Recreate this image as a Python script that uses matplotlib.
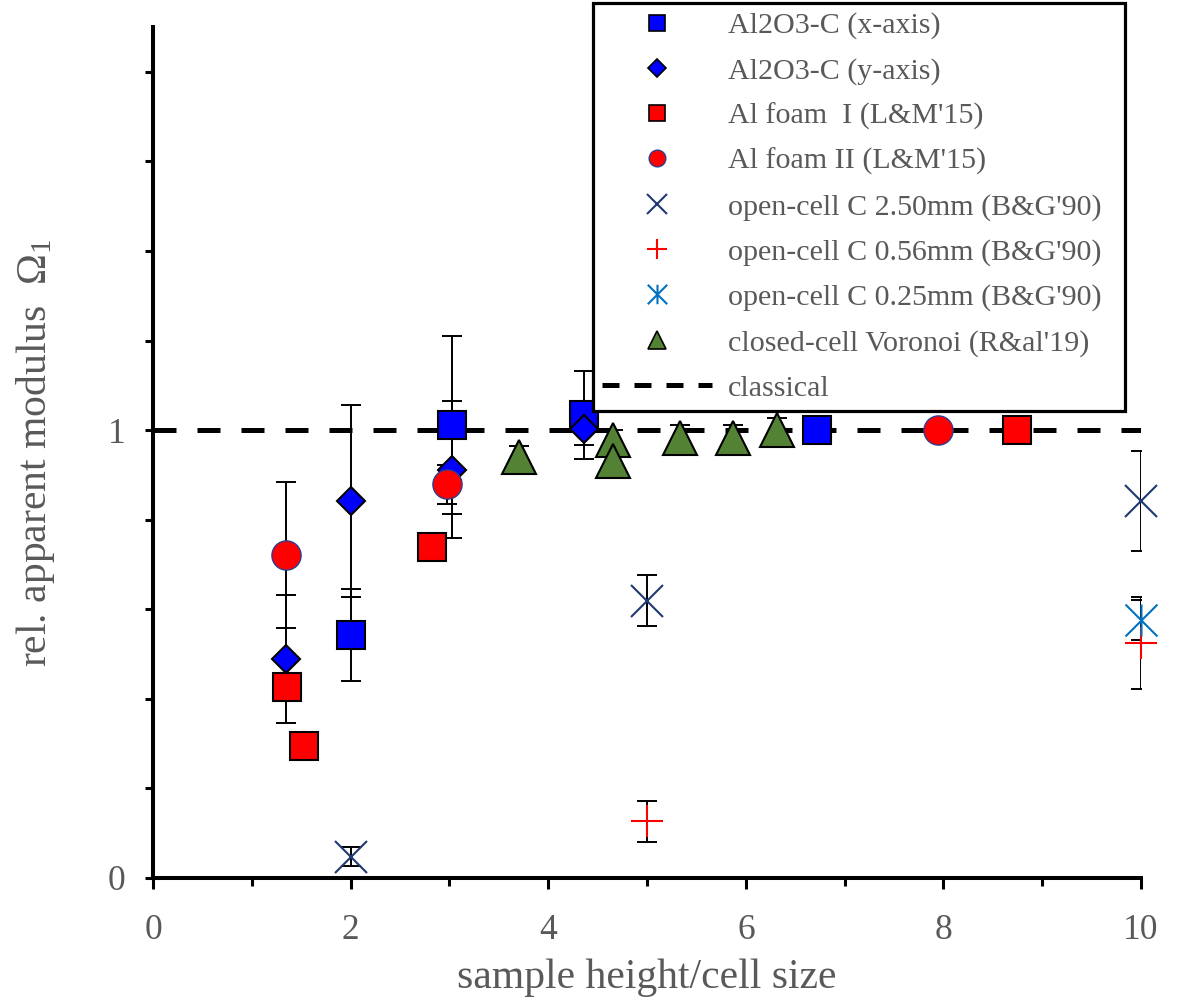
import numpy as np
import matplotlib
matplotlib.use('Agg')
import matplotlib.pyplot as plt
from matplotlib.lines import Line2D
from matplotlib.path import Path
from matplotlib.ticker import FixedLocator, MultipleLocator

# Data
al2o3_x_h = [2.0, 3.03, 4.36, 6.72]
al2o3_x_val = [0.542, 1.011, 1.033, 1.0]
al2o3_x_err = [0.103, 0.199, 0.098, 0.0]

al2o3_y_h = [1.35, 2.0, 3.03, 4.36]
al2o3_y_val = [0.489, 0.842, 0.912, 1.002]
al2o3_y_err = [0.143, 0.214, 0.152, 0.035]

foam1_h = [1.36, 1.53, 2.82, 8.74]
foam1_val = [0.426, 0.295, 0.739, 1.0]

foam2_h = [1.35, 2.98, 7.95]
foam2_val = [0.721, 0.879, 1.0]
foam2_err = [0.163, 0.044, 0.0]

oc250_h = [2.0, 5.0, 10.0]
oc250_val = [0.048, 0.619, 0.842]
oc250_err = [0.022, 0.057, 0.112]

oc056_h = [5.0, 10.0]
oc056_val = [0.127, 0.524]
oc056_err = [0.046, 0.103]

oc025_h = [10.0]
oc025_val = [0.576]
oc025_err = [0.045]

voronoi_h = [3.7, 4.66, 4.66, 5.33, 5.87, 6.32]
voronoi_val = [0.940, 0.978, 0.930, 0.982, 0.982, 1.0]
voronoi_err = [0.024, 0.022, 0.022, 0.03, 0.03, 0.027]

classical_h = [0, 10]
classical_val = [1, 1]

labels = ['Al2O3-C (x-axis)', 'Al2O3-C (y-axis)', 'Al foam  I (L&M\'15)',
          'Al foam II (L&M\'15)', 'open-cell C 2.50mm (B&G\'90)',
          'open-cell C 0.56mm (B&G\'90)', 'open-cell C 0.25mm (B&G\'90)',
          'closed-cell Voronoi (R&al\'19)', 'classical']

plt.rcParams['font.family'] = ['Liberation Serif', 'DejaVu Serif']
plt.rcParams['mathtext.fontset'] = 'custom'
plt.rcParams['mathtext.rm'] = 'Liberation Serif'
plt.rcParams['mathtext.it'] = 'Liberation Serif:italic'
gray = '#595959'

# asterisk marker: X with a vertical bar
star = Path([(0, -1), (0, 1), (-1, -1), (1, 1), (-1, 1), (1, -1)],
            [Path.MOVETO, Path.LINETO, Path.MOVETO, Path.LINETO, Path.MOVETO, Path.LINETO])

navy = '#1F3A70'
lblue = '#0070C0'
green = '#548235'

fig = plt.figure(figsize=(11.96, 10), dpi=100)
ax = fig.add_axes([0.128, 0.122, 0.826, 0.851])

eb = dict(ecolor='black', elinewidth=1.4, capsize=7.2, capthick=1.4, ls='none', zorder=2)

ax.plot(classical_h, classical_val, color='black', lw=3.6, dashes=(4.6, 4.2),
        dash_capstyle='butt', zorder=1.5)

ax.errorbar(al2o3_x_h, al2o3_x_val, yerr=al2o3_x_err, fmt='none', **eb)
ax.errorbar(al2o3_y_h, al2o3_y_val, yerr=al2o3_y_err, fmt='none', **eb)
ax.errorbar(foam2_h, foam2_val, yerr=foam2_err, fmt='none', **eb)
ax.errorbar(oc250_h, oc250_val, yerr=oc250_err, fmt='none', **eb)
ax.errorbar(oc056_h, oc056_val, yerr=oc056_err, fmt='none', **eb)
ax.errorbar(oc025_h, oc025_val, yerr=oc025_err, fmt='none', **eb)
ax.errorbar(voronoi_h, voronoi_val, yerr=voronoi_err, fmt='none', **eb)

ax.plot(foam1_h, foam1_val, 's', ms=20, mfc='#FF0000', mec='black', mew=1.5, ls='none', zorder=3)
ax.plot(voronoi_h, voronoi_val, '^', ms=24, mfc=green, mec='black', mew=1.5, ls='none', zorder=3)
ax.plot(al2o3_x_h, al2o3_x_val, 's', ms=20, mfc='#0000FF', mec='black', mew=1.5, ls='none', zorder=3)
ax.plot(al2o3_y_h, al2o3_y_val, 'D', ms=14, mfc='#0000FF', mec='black', mew=1.5, ls='none', zorder=3)
ax.plot(foam2_h, foam2_val, 'o', ms=21, mfc='#FF0000', mec='#2E3D8F', mew=1.0, ls='none', zorder=3)
ax.plot(oc250_h, oc250_val, 'x', ms=23, mec=navy, mew=1.5, ls='none', zorder=3, clip_on=False)
ax.plot(oc056_h, oc056_val, '+', ms=23, mec='#FF0000', mew=1.5, ls='none', zorder=3, clip_on=False)
ax.plot(oc025_h, oc025_val, marker=star, ms=23, mec=lblue, mew=1.5, ls='none', zorder=3, clip_on=False)

ax.set_xlim(0, 10)
ax.set_ylim(0, 1.9)
ax.xaxis.set_major_locator(FixedLocator([0, 2, 4, 6, 8, 10]))
ax.xaxis.set_minor_locator(FixedLocator([1, 3, 5, 7, 9]))
ax.yaxis.set_major_locator(FixedLocator([0, 1]))
ax.yaxis.set_minor_locator(MultipleLocator(0.2))
ax.set_yticklabels(['0', '1'])

for s in ['top', 'right']:
    ax.spines[s].set_visible(False)
for s in ['left', 'bottom']:
    ax.spines[s].set_linewidth(2.9)

ax.tick_params(axis='x', which='major', direction='out', length=8, width=2.2,
               labelsize=25.5, labelcolor=gray, pad=18)
ax.tick_params(axis='x', which='minor', direction='out', length=5.5, width=2.2)
ax.tick_params(axis='y', which='major', direction='inout', length=12, width=2.2,
               labelsize=25.5, labelcolor=gray, pad=14)
ax.tick_params(axis='y', which='minor', direction='out', length=5.5, width=2.2)

ax.set_xlabel('sample height/cell size', fontsize=30, color=gray)
ax.xaxis.set_label_coords(0.5, -0.095)
ax.set_ylabel(r'rel. apparent modulus  $\mathit{\Omega}_\mathrm{1}$', fontsize=30, color=gray)
ax.yaxis.set_label_coords(-0.097, 0.5)

handles = [
    Line2D([], [], marker='s', ms=11, mfc='#0000FF', mec='black', mew=1.2, ls='none'),
    Line2D([], [], marker='D', ms=9, mfc='#0000FF', mec='black', mew=1.2, ls='none'),
    Line2D([], [], marker='s', ms=11, mfc='#FF0000', mec='black', mew=1.2, ls='none'),
    Line2D([], [], marker='o', ms=12, mfc='#FF0000', mec='#2E3D8F', mew=1.0, ls='none'),
    Line2D([], [], marker='x', ms=14, mec=navy, mew=1.5, ls='none'),
    Line2D([], [], marker='+', ms=14, mec='#FF0000', mew=1.5, ls='none'),
    Line2D([], [], marker=star, ms=14, mec=lblue, mew=1.5, ls='none'),
    Line2D([], [], marker='^', ms=13, mfc=green, mec='black', mew=1.2, ls='none'),
    Line2D([], [], color='black', lw=3.6, dashes=(3.4, 3.0), dash_capstyle='butt'),
]
leg = fig.legend(handles, labels, loc='upper left',
                 bbox_to_anchor=(593 / 1196, 0.59, 532 / 1196, 0.407), mode='expand',
                 bbox_transform=fig.transFigure, fontsize=21.6, labelcolor=gray,
                 frameon=True, fancybox=False, edgecolor='black', framealpha=1,
                 borderpad=0.3, labelspacing=0.6, handlelength=3.67, handletextpad=0.53,
                 borderaxespad=0)
leg.get_frame().set_linewidth(2.3)

fig.savefig('out.png', dpi=100)
